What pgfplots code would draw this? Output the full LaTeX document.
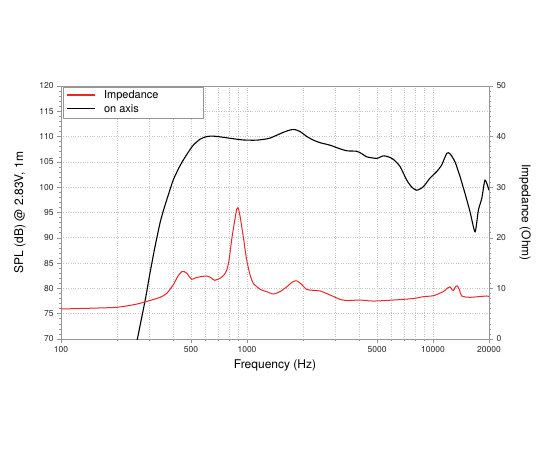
\documentclass[border=0pt]{standalone}
\usepackage{pgfplots}
\pgfplotsset{compat=1.18}
\usepackage{fontspec}
\setmainfont{TeX Gyre Heros}
\definecolor{impred}{RGB}{232,40,40}
\definecolor{axgray}{RGB}{150,150,150}
\newcommand{\legred}{\tikz[baseline=-0.5bp]{\draw[color=impred, line width=1.3bp] (0bp,3.2bp) -- (28bp,3.2bp);}}
\newcommand{\legblack}{\tikz[baseline=-0.5bp]{\draw[color=black, line width=1.2bp] (0bp,3.2bp) -- (28bp,3.2bp);}}
\begin{document}
\begin{tikzpicture}
\useasboundingbox (-61bp,-111bp) rectangle (489bp,339bp);
\begin{axis}[
  at={(0,0)}, anchor=south west,
  scale only axis, width=428bp, height=253bp,
  xmode=log, xmin=100, xmax=20000,
  ymin=70, ymax=120,
  xtick={100,500,1000,5000,10000,20000},
  xticklabels={100,500,1000,5000,10000,20000},
  minor xtick={200,300,400,600,700,800,900,2000,3000,4000,6000,7000,8000,9000},
  ytick={70,75,...,120},
  minor y tick num=4,
  xtick pos=bottom, ytick pos=left,
  tick align=outside,
  major tick length=4bp, minor tick length=2bp,
  tick style={axgray, line width=0.6bp},
  axis line style={axgray, line width=0.8bp},
  xmajorgrids=true, xminorgrids=true, ymajorgrids=true,
  major grid style={dotted, black!22, line width=0.75bp},
  minor grid style={dotted, black!22, line width=0.75bp},
  /pgf/number format/assume math mode=true,
  ticklabel style={font=\fontsize{8.5bp}{10bp}\selectfont, text=black!85},
  xlabel={Frequency (Hz)},
  ylabel={SPL (dB) @ 2.83V, 1m},
  label style={font=\fontsize{12bp}{14bp}\selectfont},
  xlabel style={at={(axis description cs:0.5,-0.103)}, anchor=center},
  ylabel style={at={(axis description cs:-0.0958,0.5)}, anchor=center},
  legend style={at={(axis description cs:0.0047,0.996)}, anchor=north west,
    draw=axgray, line width=0.6bp, font=\fontsize{11bp}{13bp}\selectfont,
    inner sep=2bp, row sep=0bp,
    nodes={inner sep=1.5bp, text height=8bp, text depth=2.5bp}},
  legend cell align=left,
]
\addlegendimage{empty legend}
\addlegendentry{\makebox[133bp][l]{\legred\hspace{8bp}Impedance}}
\addlegendimage{empty legend}
\addlegendentry{\makebox[133bp][l]{\legblack\hspace{8bp}on axis}}
\addplot[black, line width=1.1bp, smooth, tension=0.4, forget plot] coordinates {
(250,68.2) (258,70.2) (270,73.8) (286,78.4) (300,82.8) (320,88.2) (341,93.0)
(358,95.8) (380,98.8) (401,101.4) (430,103.8) (455,105.4) (485,107.0) (514,108.3)
(560,109.5) (607,110.0) (650,110.1) (700,110.0) (800,109.7) (917,109.4) (1000,109.3)
(1128,109.3) (1250,109.5) (1329,109.7) (1450,110.3) (1580,110.9) (1704,111.3)
(1800,111.4) (1928,111.0) (2100,110.0) (2275,109.3) (2469,108.8) (2794,108.3)
(3100,107.7) (3436,107.2) (3889,107.1) (4150,106.6) (4402,106.0) (4980,105.7)
(5404,106.2) (5750,106.0) (6121,105.5) (6647,104.1) (7220,101.4) (7700,100.0)
(8175,99.4) (8872,100.1) (9640,101.8) (10470,103.1) (11140,104.4) (11850,106.7)
(12340,106.6) (13130,105.0) (13970,102.1) (14850,98.8) (15800,95.2) (16830,91.2)
(17540,95.5) (18290,97.8) (19040,101.4) (20000,99.4)
};
\end{axis}
\begin{axis}[
  at={(0,0)}, anchor=south west,
  scale only axis, width=428bp, height=253bp,
  xmode=log, xmin=100, xmax=20000,
  ymin=0, ymax=50,
  axis x line=none, axis y line*=right,
  ytick={0,10,...,50},
  minor y tick num=9,
  tick align=outside,
  major tick length=4bp, minor tick length=2bp,
  tick style={axgray, line width=0.6bp},
  axis line style={axgray, line width=0.8bp},
  /pgf/number format/assume math mode=true,
  ticklabel style={font=\fontsize{8.5bp}{10bp}\selectfont, text=black!85},
  ylabel={Impedance (Ohm)},
  label style={font=\fontsize{12bp}{14bp}\selectfont},
  ylabel style={at={(axis description cs:1.084,0.5)}, anchor=center, rotate=180},
]
\addplot[impred, line width=1bp, smooth, tension=0.4] coordinates {
(100,5.93) (150,6.1) (199,6.26) (240,6.7) (266,7.05) (300,7.6) (341,8.24) (370,9.0)
(401,10.7) (425,12.4) (445,13.3) (460,13.3) (474,13.0) (504,11.8) (530,12.1)
(559,12.3) (607,12.45) (640,12.1) (670,11.6) (716,12.0) (750,12.6) (778,13.6)
(800,15.5) (827,19.6) (855,23.0) (880,25.6) (895,25.9) (915,24.5) (955,20.2)
(996,15.6) (1040,12.6) (1081,11.0) (1180,9.8) (1276,9.35) (1384,8.9) (1504,9.35)
(1634,10.3) (1760,11.3) (1850,11.5) (1950,10.9) (2095,9.8) (2300,9.6) (2469,9.5)
(2794,8.7) (3162,7.84) (3436,7.6) (4053,7.7) (4775,7.5) (6120,7.7) (7840,8.0)
(8870,8.36) (10040,8.56) (11350,9.35) (12000,10.1) (12340,10.3) (12850,9.55)
(13200,10.3) (13520,10.5) (13900,9.6) (14260,8.5) (15800,8.24) (19450,8.5) (20000,8.36)
};
\end{axis}
\end{tikzpicture}
\end{document}
